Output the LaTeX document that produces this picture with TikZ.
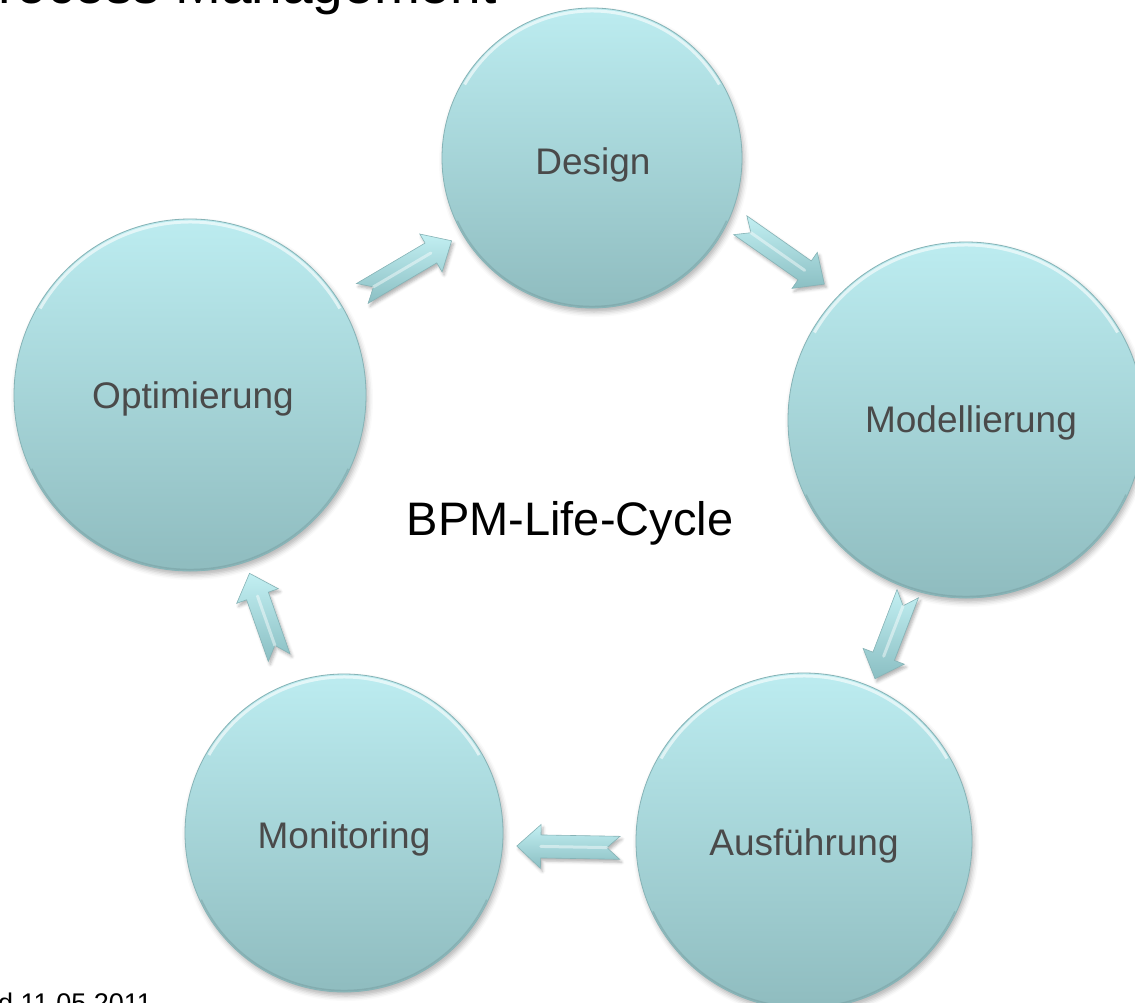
\documentclass[tikz,border=0pt]{standalone}
\usepackage{fontspec}
\setmainfont{Liberation Sans}
\usetikzlibrary{calc,shadows.blur}

\definecolor{bubtop}{HTML}{BCECF0}
\definecolor{bubbot}{HTML}{8FBCBF}
\definecolor{bubrim}{HTML}{86B3B6}
\definecolor{labelgray}{HTML}{4A4A4A}
\definecolor{arrtop}{HTML}{C2EFF2}
\definecolor{arrbot}{HTML}{8BBFC3}

\tikzset{
  bubble/.style={circle, inner sep=0pt, minimum size=#1,
    top color=bubtop, bottom color=bubbot, draw=bubrim, line width=0.8pt,
    blur shadow={shadow xshift=2pt, shadow yshift=-4pt,
      shadow blur radius=5pt, shadow opacity=30}},
  rimhi/.style={white, opacity=0.6, line width=3pt},
  rimlo/.style={bubrim!80!black, opacity=0.35, line width=1.5pt},
  lab/.style={anchor=base, text=labelgray, font=\fontsize{37}{40}\selectfont},
  arrowbody/.style={top color=arrtop, bottom color=arrbot, draw=bubrim,
    line width=0.6pt, line join=miter,
    blur shadow={shadow xshift=2pt, shadow yshift=-3pt,
      shadow blur radius=3pt, shadow opacity=30}},
  arrowridge/.style={white, opacity=0.45, line width=3pt, line cap=round},
}

% block arrow from node #1 to node #2: starts #3 from the centre of #1,
% ends #4 from the centre of #2, shifted sideways by #5
\newcommand\flowarrow[5]{%
  \coordinate (#1#2s) at ($(#1)!#3!(#2)!#5!90:(#2)$);
  \coordinate (#1#2t) at ($(#2)!#4!(#1)!#5!-90:(#1)$);
  \coordinate (#1#2h) at ($(#1#2t)!24pt!(#1#2s)$);
  \coordinate (#1#2n) at ($(#1#2s)!13pt!(#1#2t)$);
  \path[arrowbody]
    ($(#1#2s)!11.5pt!90:(#1#2t)$) -- ($(#1#2h)!11.5pt!-90:(#1#2s)$)
    -- ($(#1#2h)!22pt!-90:(#1#2s)$) -- (#1#2t)
    -- ($(#1#2h)!22pt!90:(#1#2s)$) -- ($(#1#2h)!11.5pt!90:(#1#2s)$)
    -- ($(#1#2s)!11.5pt!-90:(#1#2t)$) -- (#1#2n) -- cycle;
  \draw[arrowridge] (#1#2n) -- (#1#2h);
}

\begin{document}
\begin{tikzpicture}[x=1pt,y=1pt]
  \useasboundingbox (0,0) rectangle (1135,-1002);
  \clip (0,0) rectangle (1135,-1002);

  % heading and footer, partly outside the page
  \node[anchor=base west, inner sep=0pt, font=\fontsize{55}{60}\selectfont]
    (title) at (-2,-3) {rocess Management};
  \node[anchor=base west, inner sep=0pt, font=\fontsize{27}{30}\selectfont]
    (date) at (-2,-1012) {d 11.05.2011};

  % the five phases
  \node[bubble=300pt] (des) at (592,-158) {};
  \node[bubble=356pt] (mod) at (966,-420) {};
  \node[bubble=336pt] (aus) at (804,-841) {};
  \node[bubble=318pt] (mon) at (344,-833) {};
  \node[bubble=352pt] (opt) at (190,-395) {};

  \foreach \n/\r in {des/150, mod/178, aus/168, mon/159, opt/176} {
    \draw[rimhi] (\n.center) ++(150:{\r-3}) arc[start angle=150, end angle=30, radius={\r-3}];
    \draw[rimlo] (\n.center) ++(205:{\r-1.5}) arc[start angle=205, end angle=335, radius={\r-1.5}];
  }

  \node[lab] (desl) at (593,-174) {Design};
  \node[lab] (modl) at (971,-432) {Modellierung};
  \node[lab] (ausl) at (804,-855) {Ausführung};
  \node[lab] (monl) at (344,-848) {Monitoring};
  \node[lab] (optl) at (193,-408) {Optimierung};

  \node[anchor=base, font=\fontsize{47}{50}\selectfont] (cyc) at (570,-535) {BPM-Life-Cycle};

  % cycle arrows
  \flowarrow{opt}{des}{200pt}{163pt}{0pt}
  \flowarrow{des}{mod}{160pt}{194pt}{30pt}
  \flowarrow{mod}{aus}{183pt}{177pt}{8pt}
  \flowarrow{aus}{mon}{184pt}{173pt}{10pt}
  \flowarrow{mon}{opt}{187pt}{188pt}{3pt}
\end{tikzpicture}
\end{document}
